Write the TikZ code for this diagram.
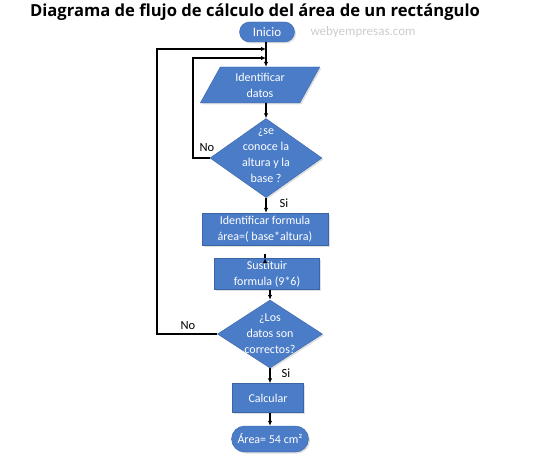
\documentclass[tikz,border=0pt]{standalone}
\usepackage{fontspec}
\setmainfont{Carlito}
\newfontfamily\titlefont{Open Sans}
\usetikzlibrary{shapes.geometric,shapes.misc,arrows.meta,shadows}
\definecolor{boxblue}{HTML}{4A7CC8}
\definecolor{boxedge}{HTML}{3A64A6}
\begin{document}
\begin{tikzpicture}[x=1pt,y=-1pt,
    flowbox/.style ={rectangle, draw=boxedge, fill=boxblue, text=white, align=center, inner sep=0pt,
      drop shadow={opacity=0.25,shadow xshift=1.5pt,shadow yshift=-1.5pt},
      font=\fontsize{12}{16}\selectfont},
    ends/.style ={flowbox, rounded rectangle},
    inbox/.style ={flowbox, trapezium, trapezium left angle=63, trapezium right angle=117, trapezium stretches=true},
    choice/.style ={flowbox, diamond},
    choicetext/.style ={text=white, align=center, inner sep=0pt, font=\fontsize{12}{16}\selectfont},
    tag/.style ={font=\fontsize{12.5}{14}\selectfont},
    arr/.style ={line width=1.2pt, -{Latex[length=5pt,width=4.5pt]}}]
   \useasboundingbox (0,0) rectangle (534,462);
   \node (title) at (255,12) {\titlefont\bfseries\fontsize{16.6}{19}\selectfont Diagrama de flujo de cálculo del área de un rectángulo};
   \node[text=black!20, font=\fontsize{13}{15}\selectfont] (mark) at (363,32) {webyempresas.com};
   % boxes
   \node[ends, minimum width=55pt, minimum height=20pt, font=\fontsize{13}{15}\selectfont] (ini) at (267,32) {Inicio};
   \node[inbox, minimum width=120pt, minimum height=36pt] (datos) at (260,85) {Identificar\\datos};
   \node[choice, minimum width=112pt, minimum height=79pt] (q1) at (266,158) {};
   \node[choicetext] (q1t) at (266,156) {¿se\\conoce la\\altura y la\\base ?};
   \node[flowbox, minimum width=126pt, minimum height=32pt] (form) at (265,229) {Identificar formula\\área=( base*altura)};
   \node[flowbox, minimum width=105pt, minimum height=31pt] (sust) at (267,274) {Sustituir\\formula (9*6)};
   \node[choice, minimum width=105pt, minimum height=68pt] (q2) at (270,334) {};
   \node[choicetext] (q2t) at (270,334) {¿Los\\datos son\\correctos?};
   \node[flowbox, minimum width=71pt, minimum height=29pt] (calc) at (268,398) {Calcular};
   \node[ends, minimum width=77pt, minimum height=26pt] (area) at (270,439) {Área= 54 cm²};
   % loop corners
   \coordinate (j1) at (266,49);
   \coordinate (j2) at (266,58);
   \coordinate (inL) at (193,58);
   \coordinate (outL) at (157,49);
   % connectors
   \draw[arr] (ini.south -| j1) -- (j1 |- datos.north);
   \draw[arr] (q1.north |- datos.south) -- (q1.north);
   \draw[arr] (q1.south) -- (q1.south |- form.north);
   \draw[arr] (sust.north -| form.south) -- (form.south |- sust.north);
   \draw[arr] (q2.north |- sust.south) -- (q2.north);
   \draw[arr] (q2.south) -- (q2.south |- calc.north);
   \draw[arr] (calc.south -| q2.south) -- (q2.south |- area.north);
   \draw[arr] (q1.west) -| (inL) -- (j2);
   \draw[arr] (q2.west) -| (outL) -- (j1);
   % labels
   \node[tag] (no1) at (207,148) {No};
   \node[tag] (si1) at (284,203) {Si};
   \node[tag] (no2) at (188,326) {No};
   \node[tag] (si2) at (286,373) {Si};
 \end{tikzpicture}
\end{document}
